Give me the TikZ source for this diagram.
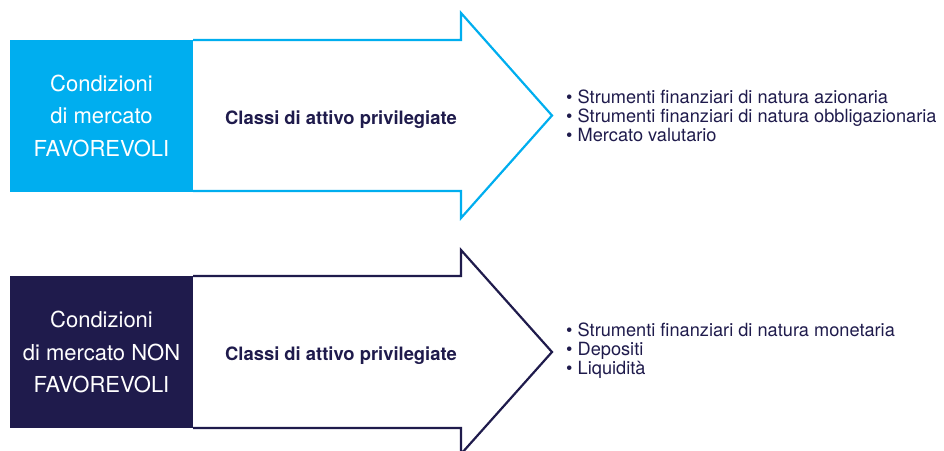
\documentclass[tikz,border=0pt]{standalone}
\usepackage{fontspec}
\setmainfont{TeX Gyre Heros}
\definecolor{cblue}{HTML}{00AEEF}
\definecolor{cnavy}{HTML}{1F1B4C}
\begin{document}
\begin{tikzpicture}[x=1pt,y=-1pt,
  condbox/.style={draw=none,inner sep=0pt,minimum width=183pt,minimum height=152pt,
    align=center,text=white,font=\fontsize{22}{32.5}\selectfont},
  arrowline/.style={line width=2.2pt,line join=miter,fill=white},
  classlabel/.style={inner sep=0pt,text=cnavy,font=\fontsize{18.4}{20}\selectfont\bfseries},
  bulletlist/.style={inner sep=0pt,anchor=west,text=cnavy,align=left,
    font=\fontsize{18.2}{19}\selectfont}]
\useasboundingbox (0,0) rectangle (944,450);
\clip (0,0) rectangle (944,450);
% top arrow
\draw[arrowline,draw=cblue] (193,40) -- (461,40) -- (461,13) -- (552,115.5)
  -- (461,218) -- (461,191) -- (193,191);
\node[condbox,fill=cblue] (fav) at (101.5,115.5)
  {Condizioni\\di mercato\\FAVOREVOLI};
\node[classlabel] (favclass) at (341,119.5) {Classi di attivo privilegiate};
\node[bulletlist] (favlist) at (566,116)
  {\textbullet\ Strumenti finanziari di natura azionaria\\
   \textbullet\ Strumenti finanziari di natura obbligazionaria\\
   \textbullet\ Mercato valutario};
% bottom arrow
\draw[arrowline,draw=cnavy] (193,276) -- (461,276) -- (461,250) -- (552,352)
  -- (461,454) -- (461,428) -- (193,428);
\node[condbox,fill=cnavy] (nonfav) at (101.5,352)
  {Condizioni\\di mercato NON\\FAVOREVOLI};
\node[classlabel] (nonfavclass) at (341,355.5) {Classi di attivo privilegiate};
\node[bulletlist] (nonfavlist) at (566,351)
  {\textbullet\ Strumenti finanziari di natura monetaria\\
   \textbullet\ Depositi\\
   \textbullet\ Liquidità};
\end{tikzpicture}
\end{document}
